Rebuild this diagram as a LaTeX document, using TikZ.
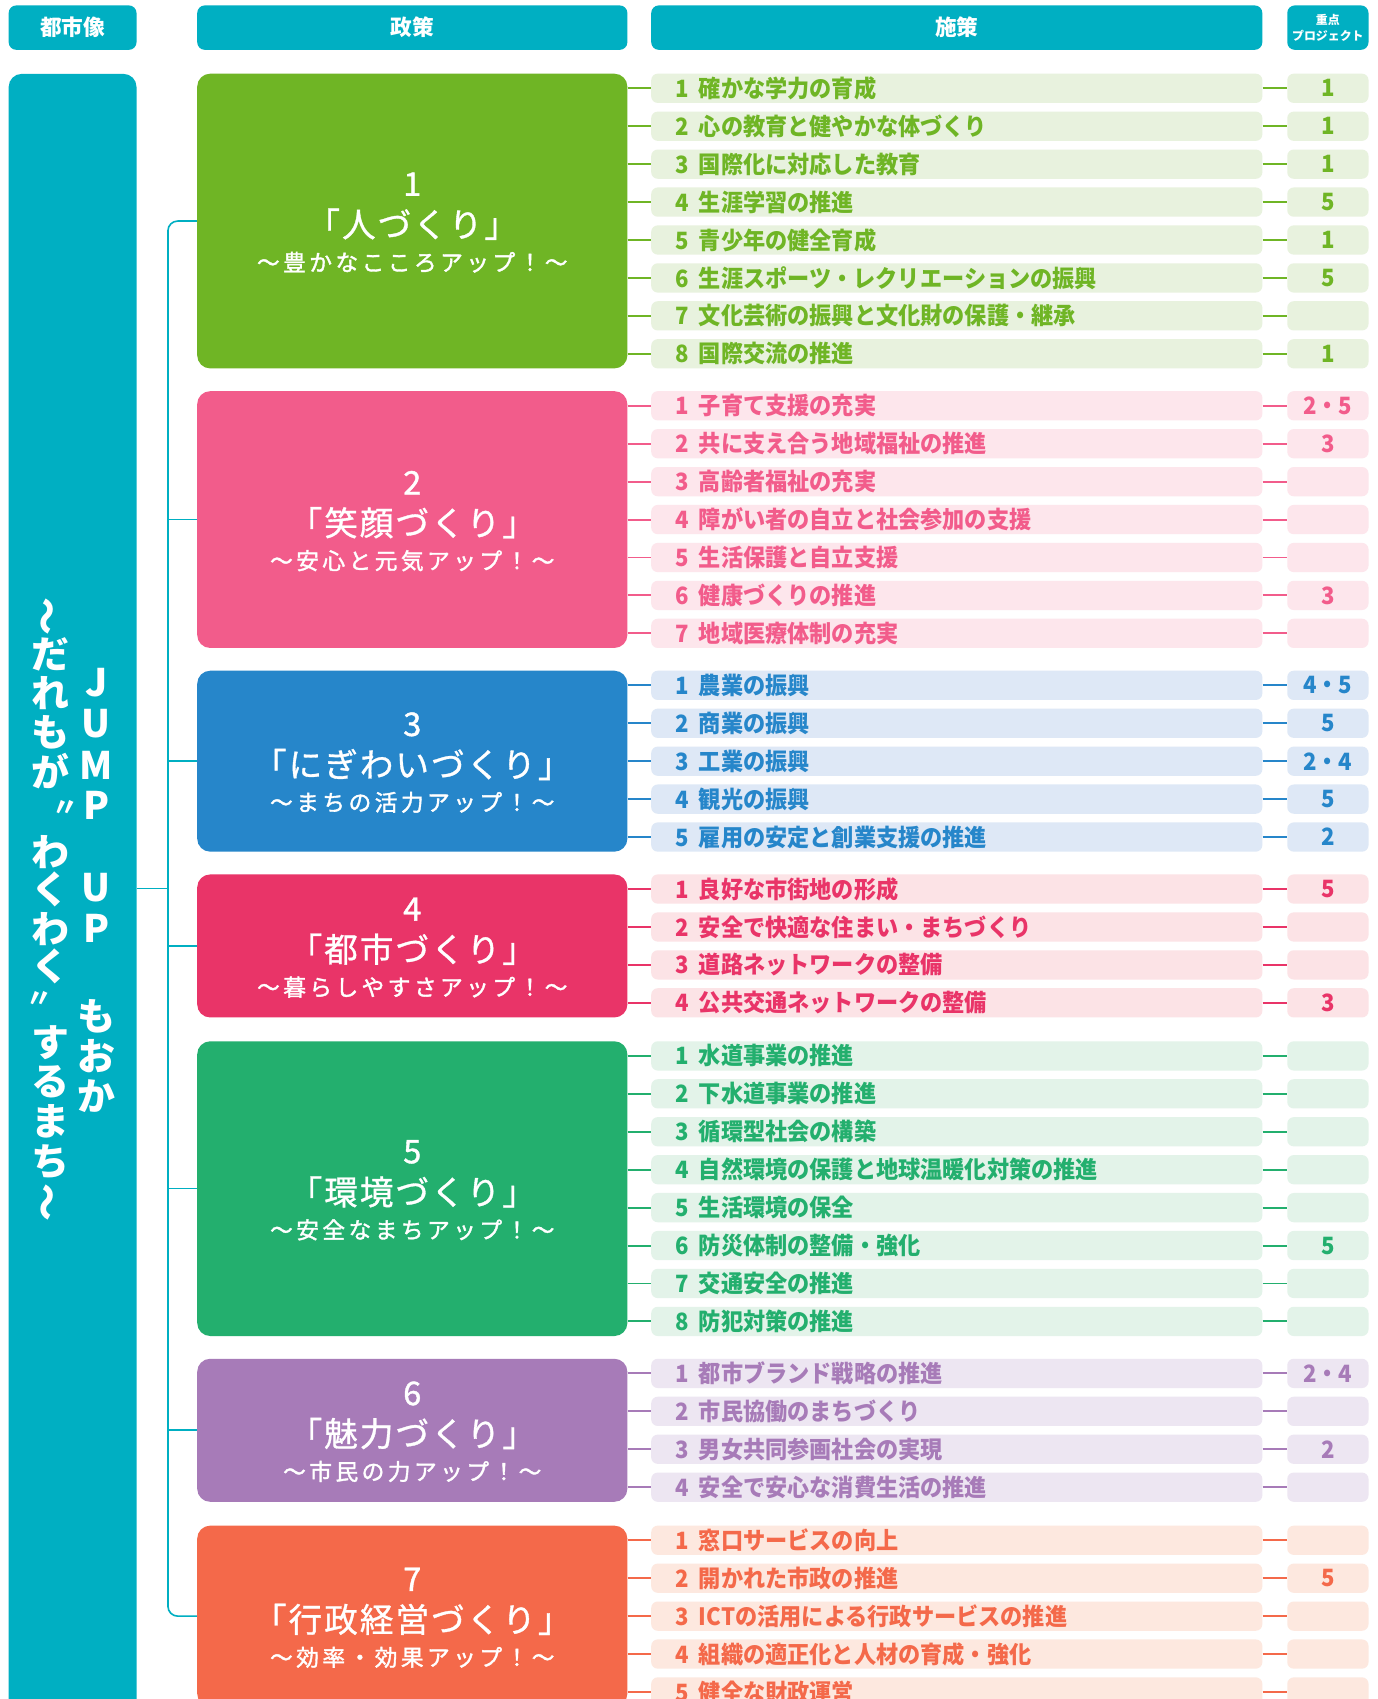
\documentclass[tikz,border=0pt]{standalone}
\usepackage{fontspec}
\setmainfont{Noto Sans CJK JP}
\newfontfamily\rowf{Noto Sans CJK JP}[FakeStretch=0.93]
\newfontfamily\ttlf{Noto Sans CJK JP}[LetterSpace=6,FakeBold=1]
\newfontfamily\subf{Noto Sans CJK JP}[LetterSpace=15,FakeBold=1.6]
\newfontfamily\numf{Noto Sans CJK JP}[FakeBold=1.2]
\definecolor{teal0}{RGB}{0,175,194}
\definecolor{c1}{RGB}{111,181,37}  \definecolor{t1}{RGB}{232,242,222}
\definecolor{c2}{RGB}{242,92,139}  \definecolor{t2}{RGB}{253,230,236}
\definecolor{c3}{RGB}{38,134,202}  \definecolor{t3}{RGB}{222,232,246}
\definecolor{c4}{RGB}{233,52,104}  \definecolor{t4}{RGB}{252,227,230}
\definecolor{c5}{RGB}{35,175,110}  \definecolor{t5}{RGB}{227,243,233}
\definecolor{c6}{RGB}{167,123,184} \definecolor{t6}{RGB}{237,230,242}
\definecolor{c7}{RGB}{244,105,74}  \definecolor{t7}{RGB}{253,232,223}
\newcommand\grp[6]{%
  \pgfmathsetmacro\gh{35*#3-8}%
  \pgfmathsetmacro\gcy{#2+\gh/2}%
  \node[policy, fill=c#1, minimum height=\gh] (P#1) at (380.5,\gcy) {};
  \node[pnum] (P#1n) at (380.5,\gcy-34) {#1};
  \node[ptitle] (P#1t) at (380.5,\gcy+3) {#4};
  \node[psub] (P#1s) at (380.5,\gcy+38) {#5};
  \foreach \rtxt/\rprj [count=\ri] in {#6} {
    \pgfmathsetmacro\ry{#2+35*(\ri-1)+13.5}
    \node[rowbox, fill=t#1, text=c#1] (g#1r\ri) at (883,\ry) {\makebox[22pt][l]{\ri}\rtxt};
    \node[projbox, fill=t#1, text=c#1] (g#1p\ri) at (1225.5,\ry) {\rprj};
    \draw[conn, c#1] (P#1.east |- g#1r\ri.west) -- (g#1r\ri.west);
    \draw[conn, c#1] (g#1r\ri.east) -- (g#1p\ri.west);
  }
}
\begin{document}
\begin{tikzpicture}[x=1pt,y=-1pt,
  hdr/.style={fill=teal0, rounded corners=7, inner sep=0, text=white, font=\bfseries\fontsize{20}{20}\selectfont},
  policy/.style={rounded corners=12, minimum width=397, inner sep=0},
  pnum/.style={text=white, inner sep=0, font=\numf\fontsize{30}{30}\selectfont},
  ptitle/.style={text=white, inner sep=0, font=\ttlf\fontsize{31}{31}\selectfont},
  psub/.style={text=white, inner sep=0, font=\subf\fontsize{21}{21}\selectfont},
  rowbox/.style={rounded corners=6, minimum width=564, minimum height=27, text width=520, inner xsep=22, inner ysep=0, align=left, font=\rowf\bfseries\fontsize{22}{22}\selectfont},
  projbox/.style={rounded corners=6, minimum width=75, minimum height=27, inner sep=0, font=\rowf\bfseries\fontsize{22}{22}\selectfont},
  conn/.style={line width=1.8},
  tree/.style={draw=teal0, line width=1.5},
  vtxt/.style={text=white, inner sep=0, font=\bfseries\fontsize{35}{35}\selectfont},
]
\path[use as bounding box] (0,0) rectangle (1271,1568);
\clip (0,0) rectangle (1271,1568);
\fill[white] (0,0) rectangle (1271,1568);
% headers
\node[hdr, minimum width=118, minimum height=41] (hcity) at (67,25.5) {都市像};
\node[hdr, minimum width=397, minimum height=41] (hpol) at (380.5,25.5) {政策};
\node[hdr, minimum width=564, minimum height=41] (hmea) at (883,25.5) {施策};
\node[hdr, minimum width=75, minimum height=41, align=center, font=\bfseries\fontsize{11}{15}\selectfont] (hprj) at (1225.5,25.5) {重点\\プロジェクト};
% city box
\node[fill=teal0, rounded corners=12, minimum width=118, minimum height=1560, inner sep=0, anchor=north] (city) at (67,68) {};
\foreach \ch/\yy [count=\k] in {だ/604,れ/640,も/676,が/712,わ/786,く/821,わ/857,く/892,す/962,る/998,ま/1035,ち/1072}
  \node[vtxt] (vl\k) at (47,\yy) {\ch};
\node[vtxt, rotate=90] (vlt1) at (47,569) {～};
\node[vtxt, rotate=90] (vlt2) at (47,1110) {～};
\node[vtxt, font=\bfseries\fontsize{24}{24}\selectfont] (vq1) at (60,746) {〃};
\node[vtxt, font=\bfseries\fontsize{24}{24}\selectfont] (vq2) at (36,922) {〃};
\foreach \ch/\yy [count=\k] in {J/630,U/668,M/706,P/743,U/819,P/857,も/938,お/975,か/1012}
  \node[vtxt] (vr\k) at (89,\yy) {\ch};
% groups
\grp{1}{68}{8}{「人づくり」}{～豊かなこころアップ！～}{確かな学力の育成/1,心の教育と健やかな体づくり/1,国際化に対応した教育/1,生涯学習の推進/5,青少年の健全育成/1,生涯スポーツ・レクリエーションの振興/5,文化芸術の振興と文化財の保護・継承/{},国際交流の推進/1}
\grp{2}{361}{7}{「笑顔づくり」}{～安心と元気アップ！～}{子育て支援の充実/2・5,共に支え合う地域福祉の推進/3,高齢者福祉の充実/{},障がい者の自立と社会参加の支援/{},生活保護と自立支援/{},健康づくりの推進/3,地域医療体制の充実/{}}
\grp{3}{619}{5}{「にぎわいづくり」}{～まちの活力アップ！～}{農業の振興/4・5,商業の振興/5,工業の振興/2・4,観光の振興/5,雇用の安定と創業支援の推進/2}
\grp{4}{807}{4}{「都市づくり」}{～暮らしやすさアップ！～}{良好な市街地の形成/5,安全で快適な住まい・まちづくり/{},道路ネットワークの整備/{},公共交通ネットワークの整備/3}
\grp{5}{961}{8}{「環境づくり」}{～安全なまちアップ！～}{水道事業の推進/{},下水道事業の推進/{},循環型社会の構築/{},自然環境の保護と地球温暖化対策の推進/{},生活環境の保全/{},防災体制の整備・強化/5,交通安全の推進/{},防犯対策の推進/{}}
\grp{6}{1254}{4}{「魅力づくり」}{～市民の力アップ！～}{都市ブランド戦略の推進/2・4,市民協働のまちづくり/{},男女共同参画社会の実現/2,安全で安心な消費生活の推進/{}}
\grp{7}{1408}{5}{「行政経営づくり」}{～効率・効果アップ！～}{窓口サービスの向上/{},開かれた市政の推進/5,ICTの活用による行政サービスの推進/{},組織の適正化と人材の育成・強化/{},健全な財政運営/{}}
% tree
\coordinate (trunk) at (155,0);
\draw[tree, rounded corners=9] (P1.west) -- (P1.west -| trunk) -- (P7.west -| trunk) -- (P7.west);
\foreach \k in {2,...,6} \draw[tree] (P\k.west -| trunk) -- (P\k.west);
\coordinate (citybr) at (city.east |- 0,820);
\draw[tree] (citybr) -- (citybr -| trunk);
\end{tikzpicture}
\end{document}
